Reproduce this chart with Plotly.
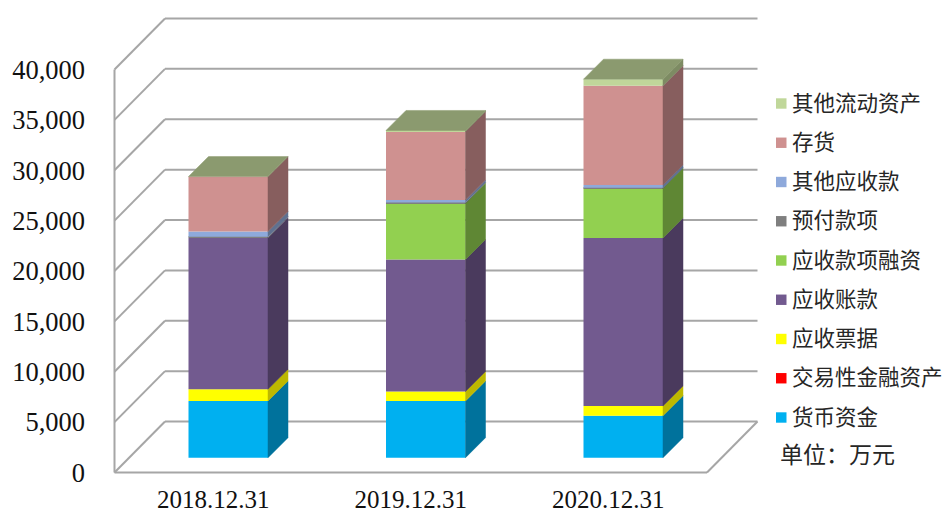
import plotly.graph_objects as go

categories = ["2018.12.31", "2019.12.31", "2020.12.31"]
series_names = ["货币资金", "交易性金融资产", "应收票据", "应收账款", "应收款项融资",
                "预付款项", "其他应收款", "存货", "其他流动资产"]
cash = [5630, 5630, 4170]
trading = [0, 0, 0]
notes = [1160, 940, 960]
receivable = [15050, 13100, 16680]
financing = [0, 5580, 4930]
prepaid = [100, 70, 60]
other_recv = [500, 260, 270]
inventory = [5460, 6790, 9860]
other_current = [0, 110, 640]
y_ticks = [0, 5000, 10000, 15000, 20000, 25000, 30000, 35000, 40000]
series_values = [cash, trading, notes, receivable, financing, prepaid, other_recv, inventory, other_current]
front_colors = ["#00B0F0", "#FF0000", "#FFFF00", "#725A8F", "#92D050", "#7F7F7F", "#8EA9DB", "#CF9190", "#C0D79A"]
side_colors = ["#00729C", "#A60000", "#BDB800", "#4A3A5D", "#5F8734", "#555555", "#5F7190", "#875E5E", "#7D8B63"]
top_color = "#8B9A6F"
grid_color = "#A6A6A6"
unit_label = "单位：万元"

W, H = 943, 514
PX_X0, BAND = 114.5, 197.5      # left front corner, category band
PX_Y0, SCALE = 472.5, 0.010075  # pixel of value 0, pixels per unit
PLOT_L, PLOT_BOTTOM = 108, 480


def ux(px):
    return px / BAND


def uy(px):
    return px / SCALE


x_range = [-0.5 + ux(PLOT_L - PX_X0), -0.5 + ux(W - PX_X0)]
y_range = [uy(PX_Y0 - PLOT_BOTTOM), uy(PX_Y0)]
wall_dx, wall_dy = ux(50.5), uy(51)
bar_dx, bar_dy = ux(15), uy(14.8)
side_dx, side_dy = ux(20), uy(20)
bar_w = ux(79.5)
n = len(categories)

fig = go.Figure()
bases = [bar_dy] * n
for name, vals, fc, sc in zip(series_names, series_values, front_colors, side_colors):
    fig.add_bar(x=[i + bar_dx for i in range(n)], y=vals, base=bases[:], width=bar_w, name=name,
                marker=dict(color=fc, line=dict(width=0)), showlegend=False)
    for i, v in enumerate(vals):
        if v <= 0:
            continue
        xr = i + bar_dx + bar_w / 2
        b, t = bases[i], bases[i] + v
        fig.add_scatter(x=[xr, xr + side_dx, xr + side_dx, xr, xr], y=[b, b + side_dy, t + side_dy, t, b],
                        mode="lines", fill="toself", fillcolor=sc, line=dict(color=sc, width=0.5),
                        hoverinfo="skip", showlegend=False)
    bases = [b + v for b, v in zip(bases, vals)]

for i in range(n):
    xl, xr = i + bar_dx - bar_w / 2, i + bar_dx + bar_w / 2
    t = bases[i]
    fig.add_scatter(x=[xl, xr, xr + side_dx, xl + side_dx, xl], y=[t, t, t + side_dy, t + side_dy, t],
                    mode="lines", fill="toself", fillcolor=top_color, line=dict(color=top_color, width=0.5),
                    hoverinfo="skip", showlegend=False)

shapes = []
line = dict(color=grid_color, width=2)
x_left, x_right = -0.5, -0.5 + n
for v in y_ticks:
    shapes.append(dict(type="line", x0=x_left, y0=v, x1=x_left + wall_dx, y1=v + wall_dy, line=line, layer="below"))
    shapes.append(dict(type="line", x0=x_left + wall_dx, y0=v + wall_dy, x1=x_right + wall_dx, y1=v + wall_dy,
                       line=line, layer="below"))
shapes.append(dict(type="line", x0=x_left, y0=0, x1=x_left, y1=y_ticks[-1], line=line, layer="below"))
shapes.append(dict(type="line", x0=x_left, y0=0, x1=x_right, y1=0, line=line, layer="below"))
shapes.append(dict(type="line", x0=x_right, y0=0, x1=x_right + wall_dx, y1=wall_dy, line=line, layer="below"))

# legend drawn by hand, top entry is the last series
LEG_TOP, LEG_STEP = 103.5, 39.25
annotations = []
for k, (name, fc) in enumerate(zip(series_names[::-1], front_colors[::-1])):
    yc = LEG_TOP + k * LEG_STEP
    shapes.append(dict(type="rect", xref="paper", yref="paper",
                       x0=(776 - PLOT_L) / (W - PLOT_L), x1=(786.5 - PLOT_L) / (W - PLOT_L),
                       y0=(PLOT_BOTTOM - yc - 5.2) / PLOT_BOTTOM, y1=(PLOT_BOTTOM - yc + 5.2) / PLOT_BOTTOM,
                       fillcolor=fc, line=dict(width=0)))
    annotations.append(dict(xref="paper", yref="paper", x=(790.5 - PLOT_L) / (W - PLOT_L),
                            y=(PLOT_BOTTOM - yc + 2.5) / PLOT_BOTTOM, text=name, showarrow=False,
                            xanchor="left", yanchor="middle", borderpad=0,
                            font=dict(size=21.5, color="#262626", family="Noto Sans CJK SC")))
annotations.append(dict(xref="paper", yref="paper", x=(779 - PLOT_L) / (W - PLOT_L),
                        y=(PLOT_BOTTOM - 453) / PLOT_BOTTOM, text=unit_label, showarrow=False,
                        xanchor="left", yanchor="middle", borderpad=0,
                        font=dict(size=23, color="#262626", family="Noto Sans CJK SC")))

fig.update_layout(
    width=W, height=H, autosize=False, barmode="overlay",
    margin=dict(l=PLOT_L, r=0, t=0, b=H - PLOT_BOTTOM, pad=0),
    plot_bgcolor="white", paper_bgcolor="white", showlegend=False,
    shapes=shapes, annotations=annotations,
    xaxis=dict(range=x_range, tickmode="array", tickvals=list(range(n)), ticktext=categories,
               automargin=False, showgrid=False, zeroline=False, showline=False, ticks="", ticklabelstandoff=2,
               tickfont=dict(family="Liberation Serif", size=25, color="#111111")),
    yaxis=dict(range=y_range, tickmode="array", tickvals=y_ticks,
               ticktext=[f"{v:,}" for v in y_ticks], automargin=False,
               showgrid=False, zeroline=False, showline=False, ticks="", ticklabelstandoff=22,
               tickfont=dict(family="Liberation Serif", size=26.5, color="#111111")),
)
fig.write_html("out.html", config={"displayModeBar": False},
               post_script="document.body.style.margin='0';document.body.style.overflow='hidden';")
